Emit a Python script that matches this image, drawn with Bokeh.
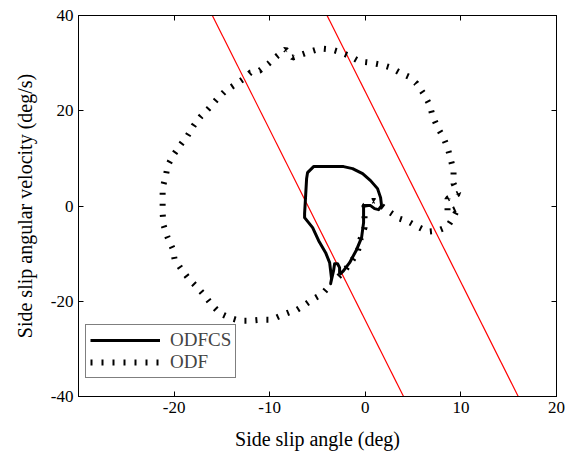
from bokeh.plotting import figure
from bokeh.models import LinearAxis, FixedTicker, Legend, LegendItem, Range1d
from bokeh.embed import file_html
from bokeh.resources import INLINE

# ---- data ----
x_ticks = [-20, -10, 0, 10, 20]
y_ticks = [-40, -20, 0, 20, 40]
x_tick_labels = ["-20", "-10", "0", "10", "20"]
y_tick_labels = ["-40", "-20", "0", "20", "40"]

odfcs_beta = [-2.69, -2.27, -1.64, -0.91, -0.39, -0.18, -0.18, 0.55, 0.97, 1.39, 1.70, 1.60,
              1.28, 0.55, -0.28, -1.33, -2.27, -5.41, -6.04, -6.14, -6.24, -6.35, -6.35,
              -5.51, -4.88, -4.15, -3.73, -3.53, -3.63, -3.32, -3.21, -2.90, -2.69, -2.69]
odfcs_rate = [-14.42, -13.58, -11.90, -9.17, -6.65, -3.50, 0.08, 0.08, -0.55, -0.76, 0.08, 1.76,
              3.65, 5.33, 6.80, 7.85, 8.27, 8.27, 7.01, 5.75, 2.18, -1.61, -2.45,
              -4.55, -7.28, -9.80, -11.90, -15.26, -16.31, -13.58, -12.11, -12.11, -12.95, -14.42]

odf_beta = [-2.79, -2.17, -1.54, -0.81, -0.49, -0.08, -0.08, -0.08, 0.87, 1.81, 2.64, 3.58,
            4.53, 5.47, 6.51, 7.56, 8.60, 9.13, 9.75, 8.60, 8.60, 9.75, 9.23, 9.23, 8.92,
            8.60, 8.18, 7.56, 7.03, 6.72, 6.09, 5.36, 4.53, 3.58, 2.64, 1.60, 0.45, -0.60,
            -1.54, -2.48, -3.53, -4.68, -5.72, -6.66, -7.60, -8.34, -9.17, -10.11, -11.05,
            -12.00, -12.83, -13.77, -14.71, -15.55, -16.39, -17.22, -17.95, -18.58, -19.31,
            -20.05, -20.67, -20.88, -21.20, -21.20, -21.20, -21.09, -20.67, -20.15, -19.94,
            -19.21, -18.48, -17.54, -16.80, -15.97, -15.13, -14.19, -13.15, -12.00, -10.85,
            -9.80, -8.86, -7.81, -7.29, -6.45, -5.41, -4.47, -3.63]
odf_rate = [-14.84, -13.58, -11.90, -9.80, -6.86, -4.55, -2.03, 0.08, 1.13, -0.13, -1.40, -2.66,
            -3.29, -4.34, -5.39, -5.18, -4.34, -2.66, -0.34, -1.40, 1.55, 2.60, 4.70, 7.43, 9.95,
            12.26, 14.36, 16.47, 18.99, 21.30, 23.61, 25.71, 27.18, 28.02, 29.07, 29.70, 30.12, 30.33,
            31.38, 32.23, 32.86, 33.07, 32.44, 31.81, 31.17, 32.86, 31.59, 29.91, 28.44,
            28.02, 26.55, 25.29, 24.03, 22.35, 20.46, 18.78, 16.89, 14.78, 12.89,
            10.79, 8.48, 6.17, 3.86, 1.13, -1.61, -4.13, -6.65, -8.96, -11.27,
            -13.37, -15.26, -17.15, -18.84, -20.94, -22.62, -23.46, -24.09, -24.09, -23.88,
            -23.88, -23.04, -22.20, -21.99, -20.94, -19.47, -18.42, -16.52]

# sliding-surface boundary lines: rate = slope * beta + offset
surface_slope = -4.0
surface_offsets = [-24.0, 24.0]
surface_rate_span = [40.0, -40.0]

FONT = "Liberation Serif"

p = figure(width=576, height=458, x_range=Range1d(-30, 20), y_range=Range1d(-40, 40),
           output_backend="svg", toolbar_location=None,
           min_border_left=78, min_border_right=20, min_border_top=15, min_border_bottom=62,
           background_fill_color="white", border_fill_color="white")
p.xgrid.visible = False
p.ygrid.visible = False
p.outline_line_color = "black"
p.outline_line_width = 1

for ax, ticks, labels in ((p.xaxis[0], x_ticks, x_tick_labels), (p.yaxis[0], y_ticks, y_tick_labels)):
    ax.ticker = FixedTicker(ticks=ticks)
    ax.major_label_overrides = {t: s for t, s in zip(ticks, labels)}
    ax.major_tick_in = 5
    ax.major_tick_out = 0
    ax.minor_tick_line_color = None
    ax.axis_line_color = "black"
    ax.major_tick_line_color = "black"
    ax.major_label_text_font = FONT
    ax.major_label_text_font_size = "17px"
    ax.major_label_text_color = "black"
    ax.axis_label_text_font = FONT
    ax.axis_label_text_font_size = "20px"
    ax.axis_label_text_font_style = "normal"
    ax.axis_label_text_color = "black"

p.xaxis[0].axis_label = "Side slip angle (deg)"
p.yaxis[0].axis_label = "Side slip angular velocity (deg/s)"
p.xaxis[0].major_label_standoff = 5
p.yaxis[0].major_label_standoff = 5
p.xaxis[0].axis_label_standoff = 12
p.yaxis[0].axis_label_standoff = 12

top = LinearAxis(ticker=FixedTicker(ticks=x_ticks), major_label_text_font_size="1px",
                 major_label_text_alpha=0, major_tick_in=5, major_tick_out=0,
                 minor_tick_line_color=None, major_label_standoff=0, axis_line_color="black")
right = LinearAxis(ticker=FixedTicker(ticks=y_ticks), major_label_text_font_size="1px",
                   major_label_text_alpha=0, major_tick_in=5, major_tick_out=0,
                   minor_tick_line_color=None, major_label_standoff=0, axis_line_color="black")
p.add_layout(top, "above")
p.add_layout(right, "right")

for c in surface_offsets:
    xs = [(r - c) / surface_slope for r in surface_rate_span]
    p.line(xs, surface_rate_span, line_color="#ff0000", line_width=1.2)

r_odf = p.line(odf_beta, odf_rate, line_color="black", line_width=6,
               line_dash="2 9", line_cap="butt")
r_cs = p.line(odfcs_beta, odfcs_rate, line_color="black", line_width=3, line_join="round")

legend = Legend(items=[LegendItem(label="ODFCS", renderers=[r_cs]),
                       LegendItem(label="ODF", renderers=[r_odf])],
                location=(7, 18), padding=4, spacing=0, margin=0,
                glyph_width=70, glyph_height=18, label_height=18, label_standoff=10,
                label_text_font=FONT, label_text_font_size="19px",
                border_line_color="black", border_line_width=1,
                background_fill_color="white", background_fill_alpha=1)
p.add_layout(legend)

open("out.html", "w").write(file_html(p, INLINE))
